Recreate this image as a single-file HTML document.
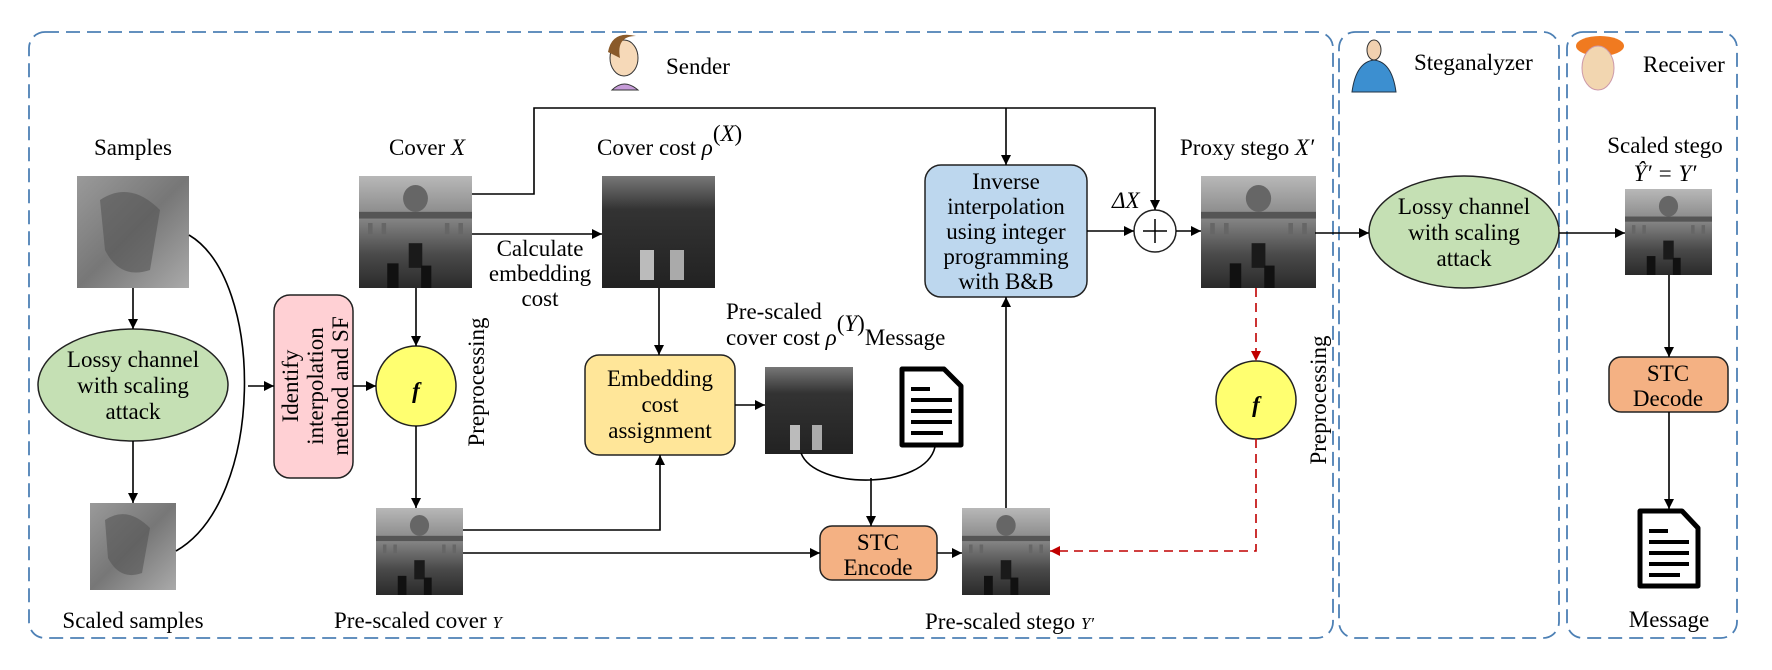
<!DOCTYPE html>
<html><head><meta charset="utf-8">
<style>
html,body{margin:0;padding:0;background:#fff;}
svg{display:block;}
text{font-family:"Liberation Serif",serif;font-size:23px;fill:#000;}
.it{font-style:italic;}
</style></head>
<body>
<svg width="1772" height="670" viewBox="0 0 1772 670" xmlns="http://www.w3.org/2000/svg">
<defs>
<marker id="a" viewBox="0 0 10 10" refX="10" refY="5" markerWidth="10" markerHeight="10" markerUnits="userSpaceOnUse" orient="auto"><path d="M0,0 L10,5 L0,10 z" fill="#000"/></marker>
<marker id="r" viewBox="0 0 10 10" refX="10" refY="5" markerWidth="10" markerHeight="10" markerUnits="userSpaceOnUse" orient="auto"><path d="M0,0 L10,5 L0,10 z" fill="#c00000"/></marker>
<linearGradient id="bld" x1="0" y1="0" x2="0" y2="1"><stop offset="0" stop-color="#b8b8b8"/><stop offset="0.35" stop-color="#8a8a8a"/><stop offset="0.7" stop-color="#4a4a4a"/><stop offset="1" stop-color="#2a2a2a"/></linearGradient>
<linearGradient id="cost" x1="0" y1="0" x2="0" y2="1"><stop offset="0" stop-color="#777"/><stop offset="0.3" stop-color="#333"/><stop offset="1" stop-color="#222"/></linearGradient>
<linearGradient id="lena" x1="0" y1="0" x2="1" y2="1"><stop offset="0" stop-color="#9a9a9a"/><stop offset="0.5" stop-color="#777"/><stop offset="1" stop-color="#aaa"/></linearGradient>
<g id="build">
<rect width="100" height="100" fill="url(#bld)"/>
<ellipse cx="50" cy="20" rx="11" ry="12" fill="#666"/>
<rect x="0" y="32" width="100" height="6" fill="#555"/>
<g fill="#666"><rect x="8" y="42" width="4" height="10"/><rect x="20" y="42" width="4" height="10"/><rect x="76" y="42" width="4" height="10"/><rect x="88" y="42" width="4" height="10"/></g>
<rect x="44" y="60" width="12" height="22" fill="#1a1a1a"/>
<rect x="25" y="78" width="10" height="22" fill="#111"/><rect x="55" y="80" width="9" height="20" fill="#111"/>
</g>
</defs>

<g fill="none" stroke="#2e6aa8" stroke-width="1.8" stroke-dasharray="14,7" opacity="0.85">
<rect x="29" y="32" width="1304" height="606" rx="16"/>
<rect x="1339" y="32" width="220" height="606" rx="16"/>
<rect x="1567" y="32" width="170" height="606" rx="16"/>
</g>

<g>
<ellipse cx="624" cy="58" rx="14" ry="18" fill="#f6d9b8" stroke="#333"/>
<path d="M608,52 q4,-22 28,-16 q-20,0 -16,22 z" fill="#8a5a2a"/>
<path d="M612,90 q12,-12 26,0 z" fill="#c69bd8" stroke="#333"/>
<path d="M1352,92 q4,-30 22,-32 q18,2 22,32 z" fill="#3c8fd0" stroke="#234"/>
<ellipse cx="1374" cy="50" rx="7" ry="10" fill="#f1d1b0" stroke="#333"/>
<ellipse cx="1600" cy="46" rx="24" ry="10" fill="#f07a20"/>
<ellipse cx="1598" cy="68" rx="16" ry="22" fill="#f2d6b0" stroke="#c9a"/>
</g>
<text x="666" y="74">Sender</text>
<text x="1414" y="70">Steganalyzer</text>
<text x="1643" y="72">Receiver</text>

<text x="133" y="155" text-anchor="middle">Samples</text>
<text x="133" y="628" text-anchor="middle">Scaled samples</text>
<text x="389" y="155">Cover <tspan class="it">X</tspan></text>
<text x="597" y="155">Cover cost <tspan class="it">ρ</tspan><tspan dy="-14">(</tspan><tspan class="it">X</tspan><tspan>)</tspan></text>
<text x="334" y="628">Pre-scaled cover <tspan class="it" font-size="17">Y</tspan></text>
<text x="540" y="256" text-anchor="middle">Calculate</text>
<text x="540" y="281" text-anchor="middle">embedding</text>
<text x="540" y="306" text-anchor="middle">cost</text>
<text x="726" y="319">Pre-scaled</text>
<text x="726" y="345">cover cost <tspan class="it">ρ</tspan><tspan dy="-14">(</tspan><tspan class="it">Y</tspan><tspan>)</tspan><tspan dy="14">Message</tspan></text>
<text x="925" y="629">Pre-scaled stego  <tspan class="it" font-size="17">Y′</tspan></text>
<text x="1180" y="155">Proxy stego <tspan class="it">X′</tspan></text>
<text x="1112" y="208" class="it" font-size="19">ΔX</text>
<text x="1665" y="153" text-anchor="middle">Scaled stego</text>
<text x="1665" y="181" text-anchor="middle" class="it" font-size="17">Ŷ′ = Y′</text>
<text x="1669" y="627" text-anchor="middle">Message</text>
<text transform="translate(484,382) rotate(-90)" text-anchor="middle">Preprocessing</text>
<text transform="translate(1326,400) rotate(-90)" text-anchor="middle">Preprocessing</text>

<rect x="77" y="176" width="112" height="112" fill="url(#lena)"/>
<path d="M100,200 q30,-20 60,10 l-10,60 q-30,10 -45,-20 z" fill="#555" opacity="0.6"/>
<rect x="90" y="503" width="86" height="87" fill="url(#lena)"/>
<path d="M105,520 q22,-15 45,8 l-8,45 q-22,8 -34,-15 z" fill="#555" opacity="0.6"/>
<use href="#build" transform="translate(359,176) scale(1.13,1.12)"/>
<use href="#build" transform="translate(376,508) scale(0.87,0.87)"/>
<use href="#build" transform="translate(962,508) scale(0.88,0.87)"/>
<use href="#build" transform="translate(1201,176) scale(1.15,1.12)"/>
<use href="#build" transform="translate(1625,189) scale(0.87,0.86)"/>
<rect x="602" y="176" width="113" height="112" fill="url(#cost)"/>
<rect x="640" y="250" width="14" height="30" fill="#bbb"/><rect x="670" y="250" width="14" height="30" fill="#aaa"/>
<rect x="765" y="367" width="88" height="87" fill="url(#cost)"/>
<rect x="790" y="425" width="10" height="25" fill="#bbb"/><rect x="812" y="425" width="10" height="25" fill="#aaa"/>

<g fill="#fff" stroke="#000" stroke-width="5" stroke-linejoin="round">
<path d="M902,369 h42 l17,17 v59 h-59 z"/>
<path d="M1640,511 h42 l16,17 v58 h-58 z"/>
</g>
<g stroke="#000" stroke-width="4">
<line x1="911" y1="389" x2="930" y2="389"/><line x1="911" y1="400" x2="952" y2="400"/><line x1="911" y1="411" x2="952" y2="411"/><line x1="911" y1="422" x2="952" y2="422"/><line x1="911" y1="433" x2="943" y2="433"/>
<line x1="1649" y1="531" x2="1668" y2="531"/><line x1="1649" y1="542" x2="1689" y2="542"/><line x1="1649" y1="553" x2="1689" y2="553"/><line x1="1649" y1="564" x2="1689" y2="564"/><line x1="1649" y1="575" x2="1680" y2="575"/>
</g>

<g stroke="#222" stroke-width="1.5">
<ellipse cx="133" cy="385" rx="95" ry="56" fill="#c5e0b4"/>
<ellipse cx="1464" cy="232" rx="95" ry="56" fill="#c5e0b4"/>
<rect x="274" y="295" width="79" height="183" rx="16" fill="#ffd0d4"/>
<circle cx="416" cy="386" r="40" fill="#ffff70"/>
<ellipse cx="1256" cy="400" rx="40" ry="39" fill="#ffff70"/>
<rect x="585" y="355" width="150" height="100" rx="14" fill="#ffe699"/>
<rect x="925" y="165" width="162" height="132" rx="16" fill="#bdd7ee"/>
<rect x="820" y="526" width="117" height="54" rx="12" fill="#f4b183"/>
<rect x="1609" y="357" width="119" height="55" rx="12" fill="#f4b183"/>
<circle cx="1155" cy="231" r="21" fill="#fff"/>
</g>
<path d="M1143,231 h24 M1155,219 v24" stroke="#000" stroke-width="1.5"/>
<text x="416" y="398" text-anchor="middle" class="it" font-weight="bold" font-size="34">f</text>
<text x="1256" y="412" text-anchor="middle" class="it" font-weight="bold" font-size="34">f</text>
<g text-anchor="middle">
<text x="133" y="367">Lossy channel</text><text x="133" y="393">with scaling</text><text x="133" y="419">attack</text>
<text x="1464" y="214">Lossy channel</text><text x="1464" y="240">with scaling</text><text x="1464" y="266">attack</text>
<text x="660" y="386">Embedding</text><text x="660" y="412">cost</text><text x="660" y="438">assignment</text>
<text x="1006" y="189">Inverse</text><text x="1006" y="214">interpolation</text><text x="1006" y="239">using integer</text><text x="1006" y="264">programming</text><text x="1006" y="289">with B&amp;B</text>
<text x="878" y="550">STC</text><text x="878" y="575">Encode</text>
<text x="1668" y="381">STC</text><text x="1668" y="406">Decode</text>
<text transform="translate(314,386) rotate(-90)"><tspan x="0" y="-16">Identify</tspan><tspan x="0" y="9">interpolation</tspan><tspan x="0" y="34">method and SF</tspan></text>
</g>

<g fill="none" stroke="#000" stroke-width="1.6" marker-end="url(#a)">
<line x1="133" y1="288" x2="133" y2="329"/>
<line x1="133" y1="441" x2="133" y2="503"/>
<line x1="248" y1="386" x2="274" y2="386"/>
<line x1="353" y1="386" x2="376" y2="386"/>
<line x1="416" y1="288" x2="416" y2="346"/>
<line x1="416" y1="426" x2="416" y2="508"/>
<line x1="472" y1="234" x2="602" y2="234"/>
<line x1="659" y1="288" x2="659" y2="355"/>
<line x1="735" y1="405" x2="765" y2="405"/>
<polyline points="463,530 660,530 660,455"/>
<line x1="463" y1="553" x2="820" y2="553"/>
<line x1="871" y1="478" x2="871" y2="526"/>
<line x1="937" y1="553" x2="962" y2="553"/>
<line x1="1006" y1="508" x2="1006" y2="297"/>
<polyline points="472,194 534,194 534,108 1155,108 1155,210"/>
<line x1="1006" y1="108" x2="1006" y2="165"/>
<line x1="1087" y1="231" x2="1134" y2="231"/>
<line x1="1176" y1="231" x2="1201" y2="231"/>
<line x1="1315" y1="233" x2="1369" y2="233"/>
<line x1="1559" y1="233" x2="1625" y2="233"/>
<line x1="1669" y1="275" x2="1669" y2="357"/>
<line x1="1669" y1="412" x2="1669" y2="509"/>
</g>
<g fill="none" stroke="#000" stroke-width="1.6">
<path d="M189,235 C265,280 265,500 176,551"/>
<path d="M801,453 C815,490 925,490 935,447"/>
</g>
<g fill="none" stroke="#c00000" stroke-width="1.6" stroke-dasharray="9,6">
<line x1="1256" y1="288" x2="1256" y2="361" marker-end="url(#r)"/>
<polyline points="1256,439 1256,551 1050,551" marker-end="url(#r)"/>
</g>
</svg>
</body></html>
